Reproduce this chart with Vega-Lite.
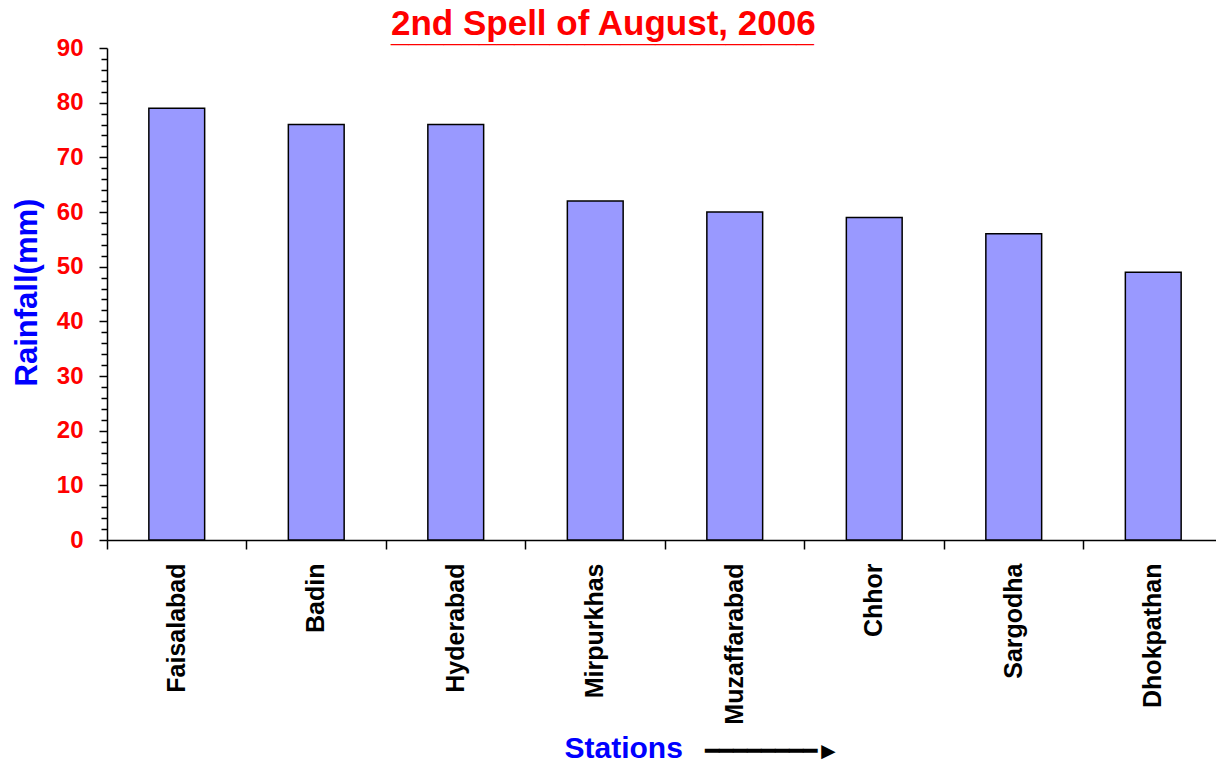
{
  "$schema": "https://vega.github.io/schema/vega-lite/v6.json",
  "width": 1109,
  "height": 492,
  "autosize": "none",
  "padding": {"left": 107, "top": 48, "right": 0, "bottom": 220},
  "background": "white",
  "config": {"view": {"stroke": null}, "font": "Liberation Sans"},
  "title": {
    "text": "2nd Spell of August, 2006",
    "subtitle": "________________________",
    "font": "Liberation Sans",
    "fontSize": 35,
    "fontWeight": "bold",
    "color": "#FF0000",
    "subtitleFont": "Liberation Sans",
    "subtitleFontSize": 31.7,
    "subtitleFontWeight": "bold",
    "subtitleColor": "#FF0000",
    "subtitlePadding": -29,
    "anchor": "start",
    "frame": "group",
    "baseline": "alphabetic",
    "dx": 284,
    "dy": 50,
    "offset": 10
  },
  "data": {
    "values": [
      {"station": "Faisalabad", "rainfall": 79},
      {"station": "Badin", "rainfall": 76},
      {"station": "Hyderabad", "rainfall": 76},
      {"station": "Mirpurkhas", "rainfall": 62},
      {"station": "Muzaffarabad", "rainfall": 60},
      {"station": "Chhor", "rainfall": 59},
      {"station": "Sargodha", "rainfall": 56},
      {"station": "Dhokpathan", "rainfall": 49}
    ]
  },
  "encoding": {
    "y": {
      "field": "rainfall",
      "type": "quantitative",
      "scale": {"domain": [0, 90], "nice": false},
      "axis": {
        "values": [0, 2, 4, 6, 8, 10, 12, 14, 16, 18, 20, 22, 24, 26, 28, 30, 32, 34, 36, 38, 40, 42, 44, 46, 48, 50, 52, 54, 56, 58, 60, 62, 64, 66, 68, 70, 72, 74, 76, 78, 80, 82, 84, 86, 88, 90],
        "labelExpr": "datum.value % 10 === 0 ? datum.label : ''",
        "tickSize": {"condition": {"test": "datum.value % 10 === 0", "value": 8}, "value": 6},
        "tickColor": "#000000",
        "tickWidth": 1.5,
        "domainColor": "#000000",
        "domainWidth": 1.5,
        "grid": false,
        "labelFont": "Liberation Sans",
        "labelFontSize": 24,
        "labelFontWeight": "bold",
        "labelColor": "#FF0000",
        "labelPadding": 16,
        "labelOverlap": false,
        "labelFlush": false,
        "title": "Rainfall(mm)",
        "titleFont": "Liberation Sans",
        "titleFontSize": 31,
        "titleFontWeight": "bold",
        "titleColor": "#0000FF",
        "titleAngle": 270,
        "titleAlign": "center",
        "titleBaseline": "alphabetic",
        "titleX": -71,
        "titleY": 244
      }
    }
  },
  "layer": [
    {
      "mark": {"type": "bar", "fill": "#9999FF", "stroke": "#000000", "strokeWidth": 1.5, "width": {"band": 0.4}},
      "encoding": {
        "x": {
          "field": "station",
          "type": "nominal",
          "sort": null,
          "scale": {"range": [0, 1116], "paddingInner": 0, "paddingOuter": 0},
          "axis": {
            "orient": "bottom",
            "title": "Stations",
            "titleFont": "Liberation Sans",
            "titleFontSize": 30,
            "titleFontWeight": "bold",
            "titleColor": "#0000FF",
            "titleAnchor": "start",
            "titleAlign": "left",
            "titleBaseline": "alphabetic",
            "titleX": 457,
            "titleY": 217,
            "labelAngle": 270,
            "labelAlign": "right",
            "labelBaseline": "middle",
            "labelFont": "Liberation Sans",
            "labelFontSize": 25,
            "labelFontWeight": "bold",
            "labelColor": "#000000",
            "labelPadding": 14,
            "labelOverlap": false,
            "bandPosition": 0,
            "tickSize": 9,
            "tickColor": "#000000",
            "tickWidth": 1.5,
            "domainColor": "#000000",
            "domainWidth": 1.5,
            "grid": false
          }
        }
      }
    },
    {
      "mark": {"type": "bar", "opacity": 0, "width": {"band": 0.4}},
      "encoding": {
        "x": {
          "field": "station",
          "type": "nominal",
          "sort": null,
          "axis": {
            "orient": "top",
            "title": "━━━━━━━━►",
            "titleFont": "Liberation Sans",
            "titleFontSize": 24,
            "titleFontWeight": "normal",
            "titleColor": "#000000",
            "titleAnchor": "start",
            "titleAlign": "left",
            "titleBaseline": "alphabetic",
            "titleX": 597,
            "titleY": 710,
            "labels": false,
            "ticks": false,
            "domain": false,
            "grid": false
          }
        }
      }
    }
  ],
  "resolve": {"axis": {"x": "independent"}}
}
